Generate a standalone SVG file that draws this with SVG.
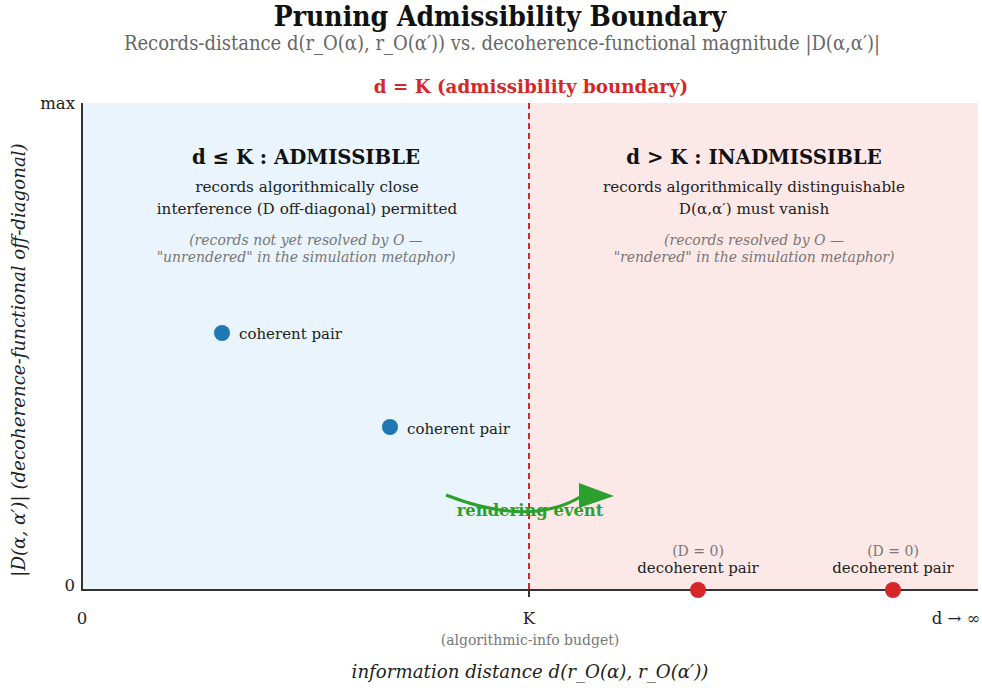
<svg xmlns="http://www.w3.org/2000/svg" width="982" height="688" viewBox="0 0 982 688">
<style>
text{font-family:"DejaVu Serif","Liberation Serif",serif;fill:#222}
.title{font-size:28px;font-weight:bold;font-stretch:condensed;fill:#111}
.sub{font-size:20px;fill:#666;font-stretch:condensed}
.hd{font-size:19.7px;font-weight:bold;fill:#111}
.body{font-size:15.2px}
.note{font-size:14px;font-style:italic;fill:#777}
.lbl{font-size:15px}
.gray{font-size:14px;fill:#777}
.tick{font-size:16.5px}
.axis{stroke:#333;stroke-width:2;fill:none}
</style>
<text class="title" x="500" y="26" text-anchor="middle">Pruning Admissibility Boundary</text>
<text class="sub" x="502" y="50" text-anchor="middle">Records-distance d(r_O(α), r_O(α′)) vs. decoherence-functional magnitude |D(α,α′)|</text>
<g id="regions">
<rect x="82" y="103" width="447" height="487" fill="#eaf4fc"/>
<rect x="529" y="103" width="449" height="487" fill="#fde8e8"/>
</g>
<g id="boundary">
<line x1="529" y1="103" x2="529" y2="590" stroke="#d62728" stroke-width="2" stroke-dasharray="6,4"/>
<text x="531" y="93" text-anchor="middle" style="font-size:18.3px;font-weight:bold;fill:#d62728">d = K (admissibility boundary)</text>
</g>
<g id="axes">
<line class="axis" x1="82" y1="103" x2="82" y2="590"/>
<line class="axis" x1="81" y1="590" x2="978" y2="590"/>
<line class="axis" x1="529" y1="590" x2="529" y2="597"/>
<text class="tick" x="75" y="109" text-anchor="end">max</text>
<text class="tick" x="75" y="591" text-anchor="end">0</text>
<text class="tick" x="82" y="624" text-anchor="middle">0</text>
<text class="tick" x="529" y="624" text-anchor="middle">K</text>
<text class="tick" x="956" y="624" text-anchor="middle">d → ∞</text>
<text class="gray" x="530" y="645" text-anchor="middle">(algorithmic-info budget)</text>
<text x="530" y="678" text-anchor="middle" style="font-size:18.2px;font-style:italic">information distance d(r_O(α), r_O(α′))</text>
<text transform="translate(25,360) rotate(-90)" text-anchor="middle" style="font-size:18.2px;font-style:italic">|D(α, α′)| (decoherence-functional off-diagonal)</text>
</g>
<g id="admissible">
<text class="hd" x="306" y="164" text-anchor="middle">d ≤ K : ADMISSIBLE</text>
<text class="body" x="307" y="192" text-anchor="middle">records algorithmically close</text>
<text class="body" x="307" y="214" text-anchor="middle">interference (D off-diagonal) permitted</text>
<text class="note" x="306" y="245" text-anchor="middle">(records not yet resolved by O —</text>
<text class="note" x="306" y="262" text-anchor="middle">"unrendered" in the simulation metaphor)</text>
</g>
<g id="inadmissible">
<text class="hd" x="754" y="164" text-anchor="middle">d &gt; K : INADMISSIBLE</text>
<text class="body" x="754" y="192" text-anchor="middle">records algorithmically distinguishable</text>
<text class="body" x="754" y="214" text-anchor="middle">D(α,α′) must vanish</text>
<text class="note" x="754" y="245" text-anchor="middle">(records resolved by O —</text>
<text class="note" x="754" y="262" text-anchor="middle">"rendered" in the simulation metaphor)</text>
</g>
<g id="coherent1">
<circle cx="222" cy="333" r="8" fill="#1f77b4"/>
<text class="lbl" x="239" y="339">coherent pair</text>
</g>
<g id="coherent2">
<circle cx="390" cy="427" r="8" fill="#1f77b4"/>
<text class="lbl" x="407" y="434">coherent pair</text>
</g>
<g id="decoherent1">
<circle cx="698" cy="590" r="8" fill="#d62728"/>
<text class="gray" x="698" y="556" text-anchor="middle">(D = 0)</text>
<text class="lbl" x="698" y="573" text-anchor="middle">decoherent pair</text>
</g>
<g id="decoherent2">
<circle cx="893" cy="590" r="8" fill="#d62728"/>
<text class="gray" x="893" y="556" text-anchor="middle">(D = 0)</text>
<text class="lbl" x="893" y="573" text-anchor="middle">decoherent pair</text>
</g>
<g id="connectors">
<path d="M446,495 Q530,528 582,496" fill="none" stroke="#2ca02c" stroke-width="3"/>
<polygon points="579,483 614,496 579,508" fill="#2ca02c"/>
<text x="530" y="516" text-anchor="middle" style="font-size:16.4px;font-weight:bold;fill:#2ca02c">rendering event</text>
</g>
</svg>
